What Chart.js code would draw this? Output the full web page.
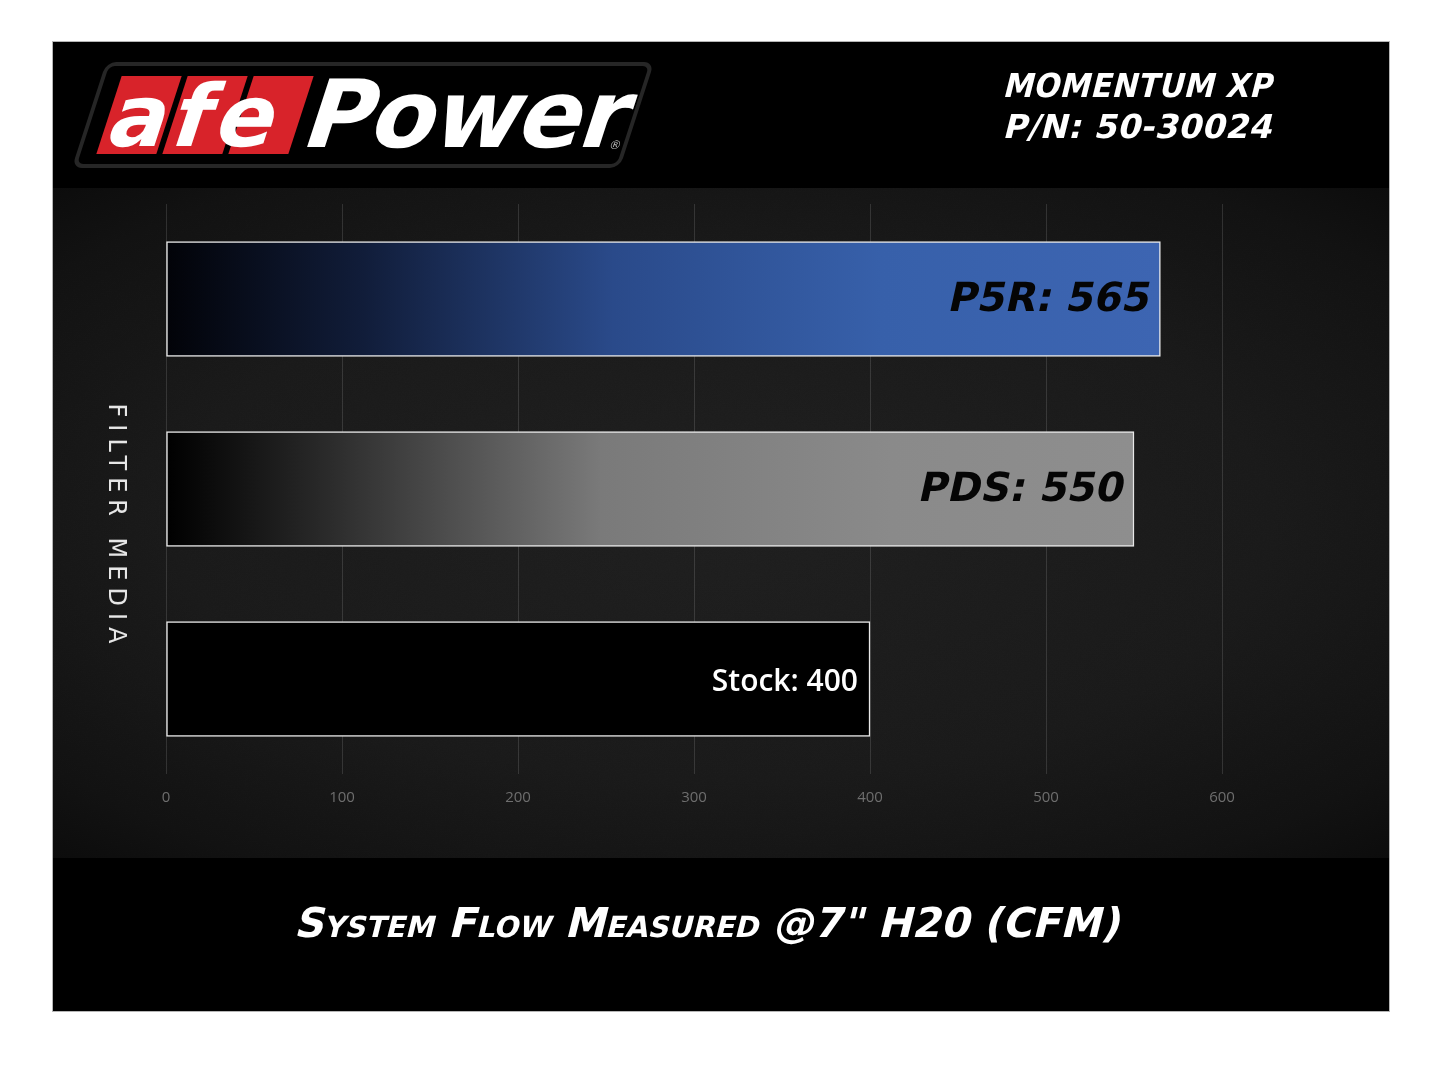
<!DOCTYPE html>
<html>
<head>
<meta charset="utf-8">
<script src="https://cdn.jsdelivr.net/npm/chart.js@4.4.1/dist/chart.umd.min.js"></script>
<style>
  html, body { margin:0; padding:0; background:#fff; width:1445px; height:1084px; overflow:hidden; }
  #panel { position:absolute; left:53px; top:42px; width:1336px; height:969px; background:#000; box-shadow:0 0 0 1px #b5b5b5; overflow:hidden; }
  #tex { position:absolute; left:0; top:146px; width:1336px; height:670px;
         background: radial-gradient(ellipse 75% 70% at 50% 50%, #1e1e1e 0%, #191919 55%, #111111 85%, #0a0a0a 100%); }
  #noise { position:absolute; left:0; top:0; width:1336px; height:670px; opacity:0.18;
           background-image:url("data:image/svg+xml;utf8,<svg xmlns='http://www.w3.org/2000/svg' width='300' height='300'><filter id='n'><feTurbulence type='fractalNoise' baseFrequency='0.9' numOctaves='2' stitchTiles='stitch'/><feColorMatrix type='saturate' values='0'/></filter><rect width='300' height='300' filter='url(%23n)'/></svg>"); mix-blend-mode:overlay; }
  #chartBox { position:absolute; left:0; top:0; width:1336px; height:670px; }
  .logo { position:absolute; left:36px; top:20px; width:540px; height:98px; border:4px solid #262626; border-radius:10px; transform:skewX(-18deg); background:#000; }
  .red { position:absolute; top:10px; height:78px; width:60px; background:#d8232a; }
  .lt { position:absolute; color:#fff; font-family:"DejaVu Sans", sans-serif; font-weight:bold; }
  .hdr { position:absolute; left:952px; color:#fff; font-family:"DejaVu Sans", sans-serif; font-weight:bold; font-size:33px; transform-origin:left center; transform:skewX(-14deg) scaleX(0.92); white-space:nowrap; letter-spacing:0.5px; }
  #xtitle { position:absolute; left:0; width:1314px; top:857px; text-align:center; color:#fff; font-family:"DejaVu Sans", sans-serif; font-weight:bold; font-size:41px; font-variant:small-caps; transform:skewX(-14deg); white-space:nowrap; letter-spacing:0px; }
</style>
</head>
<body>
<div id="panel">
  <div class="logo">
    <div class="red" style="left:16px"></div>
    <div class="red" style="left:82px"></div>
    <div class="red" style="left:148px"></div>
    <div class="lt" style="left:20px; top:0px; font-size:86px; letter-spacing:6px;">afe</div>
    <div class="lt" style="left:216px; top:-6px; font-size:94px; letter-spacing:-2px;">Power</div>
    <div class="lt" style="left:526px; top:72px; font-size:12px; font-weight:normal; color:#bbb;">®</div>
  </div>
  <div class="hdr" style="top:24px;">MOMENTUM XP</div>
  <div class="hdr" style="top:65px; transform:skewX(-14deg) scaleX(1.0);">P/N: 50-30024</div>
  <div id="tex"><div id="noise"></div><div id="chartBox"><canvas id="c"></canvas></div></div>
  <div id="xtitle">System Flow Measured @7" H20 (CFM)</div>
</div>
<script>
const categories = ['P5R', 'PDS', 'Stock'];
const flowValues = [565, 550, 400];
const tickValues = [0, 100, 200, 300, 400, 500, 600];
const yAxisTitle = 'FILTER MEDIA';

const gradStops = [
  [[0, '#020308'], [0.2, '#111d3a'], [0.45, '#2a4a8a'], [0.72, '#3760aa'], [1, '#3d65b2']],
  [[0, '#000000'], [0.15, '#262626'], [0.45, '#7a7a7a'], [0.75, '#8a8a8a'], [1, '#8e8e8e']],
  [[0, '#000000'], [1, '#000000']]
];

function barFill(ctx) {
  const chart = ctx.chart;
  const sx = chart.scales && chart.scales.x;
  if (!chart.chartArea || !sx) return '#000';
  const i = ctx.dataIndex;
  const x0 = sx.getPixelForValue(0);
  const x1 = sx.getPixelForValue(flowValues[i]);
  const g = chart.ctx.createLinearGradient(x0, 0, x1, 0);
  gradStops[i].forEach(s => g.addColorStop(s[0], s[1]));
  return g;
}

const labelPlugin = {
  id: 'barLabels',
  afterDatasetsDraw(chart) {
    const ctx = chart.ctx;
    const meta = chart.getDatasetMeta(0);
    meta.data.forEach((bar, i) => {
      ctx.save();
      ctx.textAlign = 'right';
      ctx.textBaseline = 'middle';
      const text = categories[i] + ': ' + flowValues[i];
      if (i < 2) {
        ctx.fillStyle = '#050505';
        ctx.font = 'bold 40px "DejaVu Sans"';
        ctx.translate(bar.x - 10, bar.y + 2);
        ctx.transform(1, 0, -0.22, 1, 0, 0);
        ctx.fillText(text, 0, 0);
      } else {
        ctx.fillStyle = '#ffffff';
        ctx.font = '600 30px "Open Sans"';
        ctx.fillText(text, bar.x - 12, bar.y + 3);
      }
      ctx.restore();
    });
  }
};

const yTitlePlugin = {
  id: 'yTitle',
  afterDraw(chart) {
    const ctx = chart.ctx;
    ctx.save();
    ctx.translate(62, 336);
    ctx.rotate(Math.PI / 2);
    ctx.fillStyle = '#e6e6e6';
    ctx.font = '24px "DejaVu Sans"';
    ctx.textAlign = 'center';
    ctx.textBaseline = 'middle';
    try { ctx.letterSpacing = '7px'; } catch (e) {}
    ctx.fillText(yAxisTitle, 3, 0);
    ctx.restore();
  }
};

new Chart(document.getElementById('c'), {
  type: 'bar',
  data: {
    labels: categories,
    datasets: [{
      data: flowValues,
      backgroundColor: barFill,
      borderColor: '#e8e8e8',
      borderWidth: 1.5,
      borderSkipped: false,
      barThickness: 115
    }]
  },
  options: {
    indexAxis: 'y',
    responsive: true,
    maintainAspectRatio: false,
    animation: false,
    layout: { padding: { left: 113, right: 167, top: 16, bottom: 0 } },
    plugins: { legend: { display: false }, tooltip: { enabled: false } },
    scales: {
      x: {
        min: 0, max: 600,
        afterBuildTicks(scale) { scale.ticks = tickValues.map(v => ({ value: v })); },
        afterFit(scale) { scale.height = 84; },
        grid: { color: 'rgba(255,255,255,0.13)', lineWidth: 1, drawTicks: false },
        border: { display: false },
        ticks: { color: '#6e6e6e', padding: 15, font: { family: '"Liberation Sans Narrow", "Open Sans", sans-serif', size: 15 } }
      },
      y: { display: false }
    }
  },
  plugins: [labelPlugin, yTitlePlugin]
});
</script>
</body>
</html>
